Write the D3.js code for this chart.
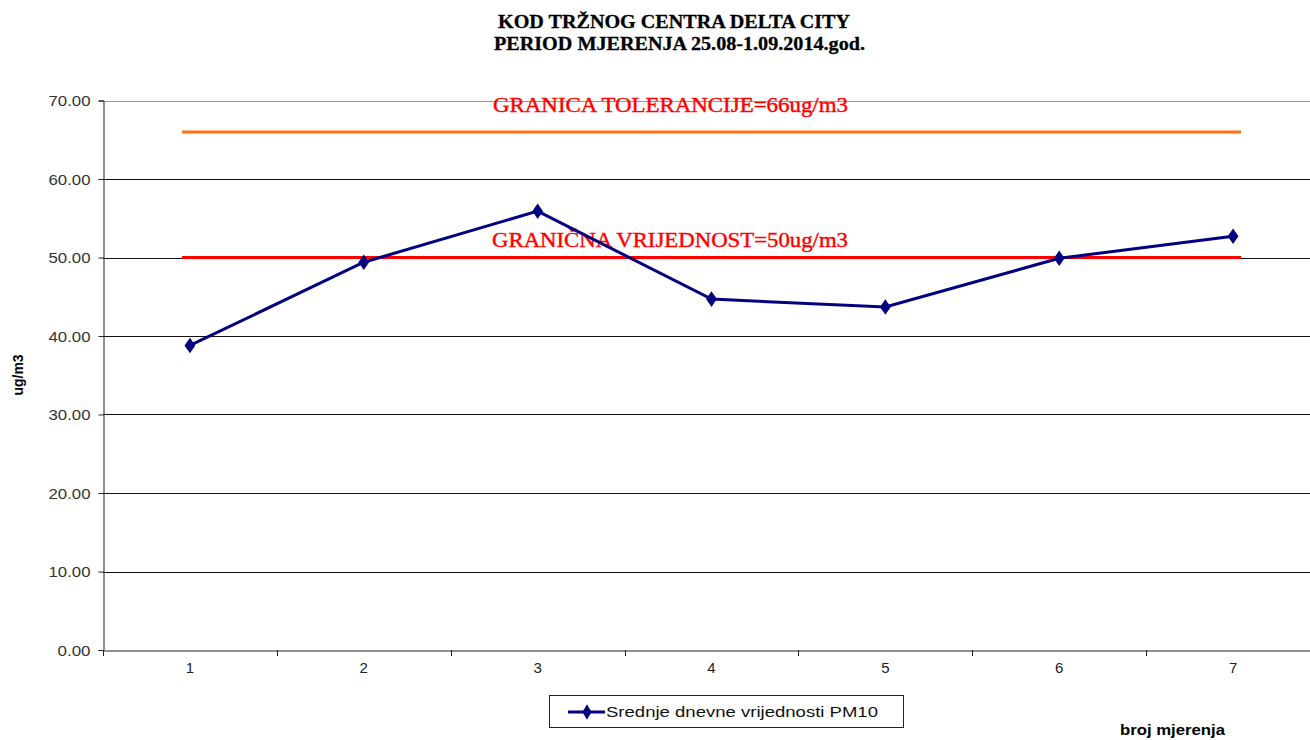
<!DOCTYPE html>
<html><head><meta charset="utf-8">
<script src="https://cdn.jsdelivr.net/npm/d3@7"></script>
<style>body{margin:0;background:#fff;}svg{display:block;}</style>
</head><body><div id="chart"></div>
<script>
const titleLines = ["KOD TRŽNOG CENTRA DELTA CITY", "PERIOD MJERENJA 25.08-1.09.2014.god."];
const categories = ["1","2","3","4","5","6","7"];
const pm10 = [38.8, 49.4, 55.9, 44.7, 43.7, 49.9, 52.7];
const yTicks = [0,10,20,30,40,50,60,70];
const limitTolerance = 66;
const limitValue = 50;
const toleranceLabel = "GRANICA TOLERANCIJE=66ug/m3";
const limitLabel = "GRANIČNA VRIJEDNOST=50ug/m3";
const seriesName = "Srednje dnevne vrijednosti PM10";
const yLabel = "ug/m3";
const xLabel = "broj mjerenja";

(function(){
const W = 1310, H = 740;
const svg = d3.select("#chart").append("svg").attr("width", W).attr("height", H);
const pLeft = 103, pRight = 1320, pTop = 100.5, pBottom = 650;

const x = d3.scaleBand().domain(categories).range([pLeft, pRight]);
const y = d3.scaleLinear().domain([0, 70]).range([pBottom, pTop]);
const cx = d => x(d) + x.bandwidth()/2;

// title
const titleX = [498, 494], titleLen = [352, 371];
svg.append("g").selectAll("text").data(titleLines).join("text")
  .attr("x", (d,i) => titleX[i]).attr("y", (d,i) => 28 + i*22)
  .attr("font-family","'Liberation Serif','Times New Roman',serif")
  .attr("font-weight","bold").attr("font-size", 19.5)
  .attr("textLength", (d,i) => titleLen[i]).attr("lengthAdjust","spacingAndGlyphs")
  .attr("stroke","#000").attr("stroke-width", 0.3)
  .text(d => d);

// gridlines
svg.append("g").selectAll("line").data(yTicks.filter(t => t > 0)).join("line")
  .attr("x1", pLeft).attr("x2", W)
  .attr("y1", d => Math.round(y(d)) + 0.5).attr("y2", d => Math.round(y(d)) + 0.5)
  .attr("stroke", d => d === 70 ? "#9a9a9a" : "#111").attr("stroke-width", 1);

// y axis
const fmt = d3.format(".2f");
const yAxis = svg.append("g").attr("transform", `translate(${pLeft + 0.5},0)`)
  .call(d3.axisLeft(y).tickValues(yTicks).tickFormat(fmt).tickSizeOuter(0).tickSize(5).tickPadding(8));
yAxis.select(".domain").attr("stroke","#222");
yAxis.selectAll(".tick line").attr("stroke","#222");
yAxis.selectAll("text").attr("font-family","Arial,'Liberation Sans',sans-serif")
  .attr("font-size", 15).attr("fill","#333").attr("dy","0.35em")
  .attr("textLength", d => fmt(d).length === 5 ? 42 : 33).attr("lengthAdjust","spacingAndGlyphs");

// x axis
const xAxis = svg.append("g").attr("transform", `translate(0,${pBottom + 0.5})`)
  .call(d3.axisBottom(x).tickSize(0).tickPadding(12));
xAxis.select(".domain").attr("stroke","#222");
xAxis.selectAll("text").attr("font-family","Arial,'Liberation Sans',sans-serif")
  .attr("font-size", 15).attr("fill","#222");
// boundary ticks between categories
svg.append("g").selectAll("line").data(categories).join("line")
  .attr("x1", d => Math.round(x(d)) + 0.5).attr("x2", d => Math.round(x(d)) + 0.5)
  .attr("y1", pBottom).attr("y2", pBottom + 6)
  .attr("stroke","#222");

// reference lines
const x0 = cx(categories[0]) - 8, x1 = cx(categories[categories.length-1]) + 8;
svg.append("line").attr("x1", x0).attr("x2", x1)
  .attr("y1", y(limitTolerance)).attr("y2", y(limitTolerance))
  .attr("stroke","#ff7010").attr("stroke-width", 3);
svg.append("line").attr("x1", x0).attr("x2", x1)
  .attr("y1", y(limitValue)).attr("y2", y(limitValue))
  .attr("stroke","#ff0000").attr("stroke-width", 3);

// reference labels
svg.append("text").attr("x", 493).attr("y", y(limitTolerance) - 20)
  .attr("font-family","'Liberation Serif','Times New Roman',serif")
  .attr("font-size", 20).attr("fill","#ff0000")
  .attr("stroke","#ff0000").attr("stroke-width", 0.4)
  .attr("textLength", 355).attr("lengthAdjust","spacingAndGlyphs")
  .text(toleranceLabel);
svg.append("text").attr("x", 492).attr("y", y(limitValue) - 11)
  .attr("font-family","'Liberation Serif','Times New Roman',serif")
  .attr("font-size", 20).attr("fill","#ff0000")
  .attr("stroke","#ff0000").attr("stroke-width", 0.4)
  .attr("textLength", 356).attr("lengthAdjust","spacingAndGlyphs")
  .text(limitLabel);

// data line
const line = d3.line().x((d,i) => cx(categories[i])).y(d => y(d));
svg.append("path").datum(pm10).attr("d", line)
  .attr("fill","none").attr("stroke","#000080").attr("stroke-width", 3);
const diamond = d3.symbol().type(d3.symbolDiamond).size(70);
svg.append("g").selectAll("path").data(pm10).join("path")
  .attr("d", diamond)
  .attr("transform", (d,i) => `translate(${cx(categories[i])},${y(d)}) scale(1.2,1)`)
  .attr("fill","#000080");

// y label
svg.append("text").attr("transform","translate(23,375) rotate(-90)")
  .attr("text-anchor","middle")
  .attr("font-family","Arial,'Liberation Sans',sans-serif")
  .attr("font-weight","bold").attr("font-size", 14)
  .text(yLabel);

// legend
const lg = svg.append("g");
lg.append("rect").attr("x", 549.5).attr("y", 695.5).attr("width", 354).attr("height", 32)
  .attr("fill","#fff").attr("stroke","#222").attr("stroke-width", 1);
lg.append("line").attr("x1", 568).attr("x2", 605).attr("y1", 712).attr("y2", 712)
  .attr("stroke","#000080").attr("stroke-width", 3);
lg.append("path").attr("d", diamond).attr("transform","translate(587,712)").attr("fill","#000080");
lg.append("text").attr("x", 606).attr("y", 717)
  .attr("font-family","Arial,'Liberation Sans',sans-serif")
  .attr("font-size", 15).attr("fill","#111")
  .attr("textLength", 272).attr("lengthAdjust","spacingAndGlyphs")
  .text(seriesName);

// x label
svg.append("text").attr("x", 1120).attr("y", 735)
  .attr("font-family","Arial,'Liberation Sans',sans-serif")
  .attr("font-weight","bold").attr("font-size", 14)
  .attr("textLength", 105).attr("lengthAdjust","spacingAndGlyphs")
  .text(xLabel);
})();
</script></body></html>
